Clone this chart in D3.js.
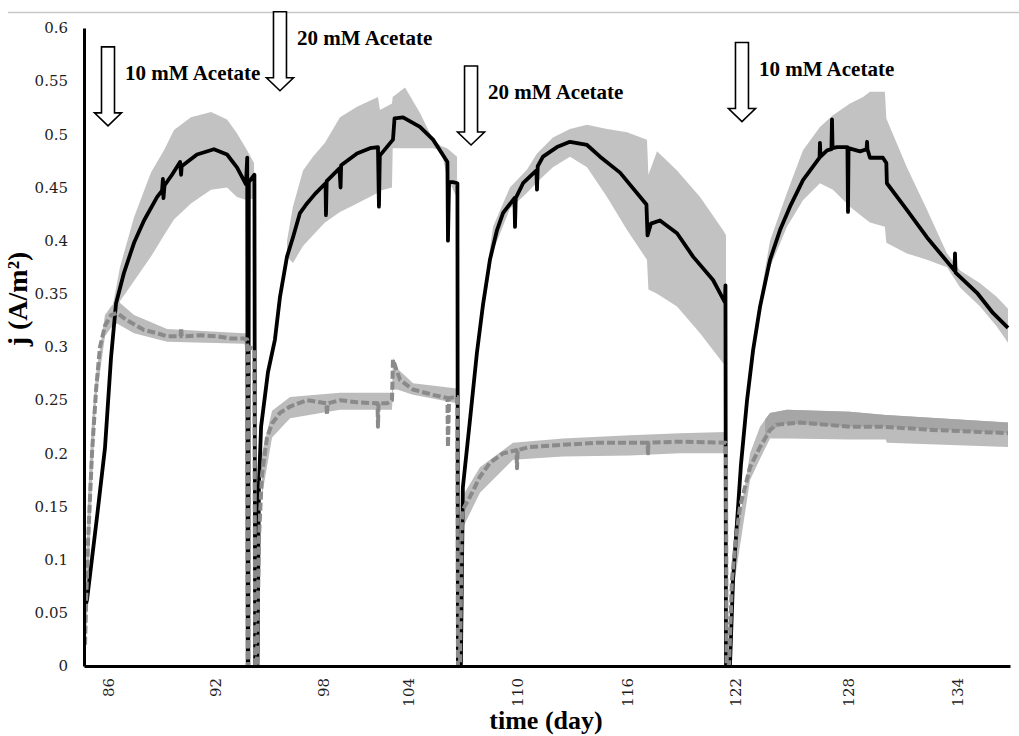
<!DOCTYPE html>
<html>
<head>
<meta charset="utf-8">
<script src="https://cdn.jsdelivr.net/npm/d3@7"></script>
<style>
  html, body { margin: 0; padding: 0; background: #fff; }
  svg { display: block; }
</style>
</head>
<body>
<svg id="chart" width="1019" height="736"></svg>
<script>
// ---- axis ticks ----
const dayTicks = [86, 92, 98, 104, 110, 116, 122, 128, 134];
const jTicks = [0, 0.05, 0.1, 0.15, 0.2, 0.25, 0.3, 0.35, 0.4, 0.45, 0.5, 0.55, 0.6];

// ---- solid series: mean current density [day, j] ----
const solidMean = [
  [84.71,0.055],[84.82,0.062],[85.38,0.14],[85.83,0.205],[86.17,0.29],[86.45,0.341],[86.90,0.37],[87.46,0.398],
  [88.02,0.419],[88.75,0.441],[89.03,0.447],[89.08,0.458],[89.11,0.44],[89.17,0.452],[89.59,0.462],[90.04,0.474],
  [90.10,0.462],[90.13,0.47],[90.99,0.481],[91.94,0.486],[92.67,0.481],[93.22,0.469],[93.50,0.46],[93.72,0.453],
  [93.79,0.478],[93.82,0],[93.85,0],[93.88,0.455],[94.19,0.462],[94.23,0],
  [94.36,0],[94.44,0.17],[94.56,0.225],[94.94,0.276],[95.33,0.307],[95.61,0.347],[96.00,0.385],[96.33,0.403],
  [96.72,0.426],[97.11,0.435],[97.56,0.444],[98.18,0.454],[98.21,0.424],[98.26,0.456],[99.16,0.468],[99.24,0.45],
  [99.28,0.471],[100.40,0.482],[101.32,0.487],[101.88,0.488],[101.95,0.432],[102.01,0.48],[102.94,0.495],
  [103.05,0.515],[103.65,0.516],[104.66,0.507],[105.38,0.495],[106.17,0.474],[106.20,0.40],[106.26,0.455],
  [106.48,0.455],[106.72,0.454],[106.75,0],
  [106.91,0],[107.02,0.168],[107.41,0.231],[107.79,0.294],[108.13,0.34],[108.51,0.382],[108.90,0.41],[109.23,0.426],
  [109.86,0.44],[109.89,0.413],[109.93,0.44],[110.33,0.454],[111.06,0.466],[111.09,0.448],[111.13,0.47],
  [111.42,0.479],[112.18,0.488],[112.89,0.493],[113.82,0.49],[114.53,0.479],[115.62,0.464],[117.08,0.434],
  [117.14,0.405],[117.33,0.416],[117.83,0.419],[118.78,0.407],[119.67,0.385],[120.78,0.363],[121.44,0.342],
  [121.47,0.358],[121.50,0],
  [121.72,0],[121.89,0.081],[122.32,0.19],[122.64,0.25],[122.96,0.297],[123.33,0.338],[123.86,0.382],[124.39,0.41],
  [124.92,0.432],[125.61,0.457],[126.49,0.478],[126.51,0.492],[126.54,0.479],[126.89,0.485],[127.12,0.486],
  [127.15,0.514],[127.18,0.487],[127.42,0.488],[127.97,0.488],[128.00,0.427],[128.03,0.487],[128.66,0.484],
  [129.02,0.486],[129.05,0.493],[129.07,0.486],[129.21,0.478],[129.92,0.478],[130.11,0.473],[130.14,0.454],
  [131.24,0.429],[132.35,0.403],[133.86,0.372],[133.89,0.388],[133.92,0.37],[135.10,0.351],[135.98,0.332],
  [136.81,0.318]
];

// ---- solid series: spread per feeding cycle [day, low, high] ----
const solidBand = [
  [[86.28,0.325,0.34],[86.67,0.343,0.375],[87.46,0.362,0.422],[88.41,0.385,0.464],[89.14,0.405,0.485],
   [89.70,0.42,0.504],[90.65,0.435,0.516],[91.78,0.448,0.521],[92.67,0.45,0.514],[93.22,0.441,0.501],
   [93.78,0.438,0.485],[94.17,0.44,0.473]],
  [[96.00,0.385,0.40],[96.33,0.379,0.432],[96.89,0.395,0.466],[97.44,0.405,0.479],[98.14,0.417,0.492],
   [99.20,0.427,0.516],[100.40,0.435,0.526],[101.88,0.445,0.535],[102.02,0.447,0.523],[102.87,0.45,0.529],
   [102.92,0.487,0.535],[103.79,0.487,0.544],[104.66,0.487,0.52],[105.38,0.487,0.495],[105.82,0.485,0.489],
   [106.15,0.46,0.487],[106.70,0.44,0.479]],
  [[108.13,0.33,0.345],[108.68,0.39,0.413],[109.61,0.43,0.45],[110.55,0.445,0.467],[111.09,0.455,0.482],
   [111.96,0.469,0.497],[112.89,0.479,0.505],[113.82,0.469,0.509],[114.91,0.441,0.505],[116.00,0.41,0.502],
   [117.11,0.382,0.495],[117.19,0.354,0.462],[117.67,0.35,0.484],[118.78,0.338,0.466],[120.06,0.313,0.441],
   [121.33,0.285,0.41],[121.50,0.282,0.405]],
  [[123.33,0.335,0.345],[123.86,0.375,0.40],[124.76,0.413,0.445],[125.61,0.438,0.485],[126.51,0.454,0.507],
   [127.20,0.448,0.518],[128.11,0.432,0.529],[128.83,0.422,0.535],[129.21,0.417,0.54],[130.03,0.413,0.54],
   [130.11,0.398,0.515],[131.24,0.388,0.469],[132.35,0.382,0.429],[133.45,0.375,0.388],[134.17,0.356,0.372],
   [135.27,0.338,0.36],[136.20,0.319,0.347],[136.81,0.304,0.336]]
];

// ---- dashed series: mean current density [day, j] ----
const dashedMean = [
  [84.71,0.02],[84.77,0.06],[84.88,0.118],[85.10,0.2],[85.33,0.26],[85.55,0.3],[85.83,0.32],[86.17,0.33],
  [86.50,0.332],[87.07,0.325],[88.02,0.316],[88.75,0.313],[89.31,0.31],[90.07,0.31],[90.10,0.318],[90.13,0.31],
  [91.21,0.311],[92.11,0.31],[92.89,0.308],[93.56,0.308],[93.79,0.307],[93.82,0],[93.85,0],[93.88,0.30],
  [94.19,0.298],[94.23,0],
  [94.33,0],[94.44,0.12],[94.61,0.18],[94.89,0.215],[95.17,0.228],[95.61,0.238],[96.17,0.244],[97.11,0.25],
  [98.25,0.247],[98.28,0.236],[98.32,0.247],[99.20,0.25],[100.40,0.248],[101.85,0.247],[101.88,0.225],
  [101.92,0.247],[102.52,0.247],[102.87,0.25],[102.94,0.288],[103.44,0.269],[104.28,0.26],[105.38,0.255],
  [106.17,0.252],[106.20,0.206],[106.26,0.252],[106.72,0.253],[106.75,0],
  [106.86,0],[106.97,0.137],[107.02,0.147],[107.41,0.159],[107.96,0.178],[108.51,0.191],[109.23,0.2],
  [109.97,0.203],[110.00,0.186],[110.03,0.203],[110.71,0.206],[112.51,0.208],[114.36,0.21],[116.17,0.21],
  [117.14,0.21],[117.17,0.2],[117.19,0.21],[118.94,0.211],[121.50,0.21],[121.53,0],
  [121.67,0],[121.83,0.081],[122.05,0.12],[122.27,0.15],[122.80,0.187],[123.33,0.206],[123.86,0.222],
  [124.23,0.227],[125.45,0.229],[128.11,0.225],[129.93,0.225],[132.68,0.222],[136.81,0.219]
];

// ---- dashed series: spread per feeding cycle [day, low, high] ----
const dashedBand = [
  [[84.71,0.0,0.06],[84.88,0.07,0.16],[85.10,0.17,0.23],[85.33,0.25,0.275],[85.83,0.31,0.33],[86.17,0.318,0.338],
   [86.50,0.322,0.344],[87.46,0.313,0.33],[89.31,0.305,0.317],[93.61,0.303,0.313],[93.72,0.30,0.313]],
  [[94.61,0.16,0.20],[95.17,0.215,0.24],[96.17,0.233,0.253],[99.20,0.241,0.257],[102.87,0.241,0.257],
   [102.94,0.26,0.29],[103.22,0.26,0.28],[104.28,0.255,0.266],[106.70,0.247,0.261]],
  [[107.02,0.13,0.16],[107.96,0.163,0.187],[109.78,0.194,0.21],[112.51,0.197,0.214],[116.17,0.198,0.217],
   [118.94,0.2,0.219],[121.50,0.2,0.22]],
  [[121.89,0.07,0.10],[122.80,0.175,0.20],[123.33,0.195,0.225],[123.86,0.214,0.238],[124.76,0.214,0.241],
   [128.11,0.213,0.239],[130.08,0.213,0.236],[130.14,0.21,0.236],[136.81,0.206,0.229]]
];
// upper half of the last cycle's spread, shown in a darker grey [day, mean, high]
const dashedUpperLast = [
  [123.60,0.215,0.232],[123.86,0.222,0.238],[124.76,0.228,0.241],[128.11,0.225,0.239],
  [130.08,0.225,0.236],[136.81,0.219,0.229]
];

// ---- substrate additions: day, j at arrow tip, label ----
const feedDays = [86.0, 95.61, 107.47, 122.37];
const feedTipJ = [0.508, 0.541, 0.49, 0.512];
const feedLabels = ["10 mM Acetate", "20 mM Acetate", "20 mM Acetate", "10 mM Acetate"];

// ---- layout ----
const svg = d3.select("#chart");
const serif = "'Liberation Serif', 'Times New Roman', serif";
const tickFont = "'DejaVu Serif', serif";

// day axis: label positions follow the category spacing of the original axis
const x = d3.scaleLinear()
  .domain([84.65, ...dayTicks, 136.92])
  .range([84, 108, 215, 323, 408, 517, 627, 735, 848, 957, 1010]);
const y = d3.scaleLinear().domain([0, 0.6]).range([666, 28]);

// frame line across the top
svg.append("line")
  .attr("x1", 8).attr("x2", 1019).attr("y1", 12.5).attr("y2", 12.5)
  .attr("stroke", "#c8c8c8").attr("stroke-width", 1.5);

const area = d3.area()
  .x(d => x(d[0])).y0(d => y(d[1])).y1(d => y(d[2]));
const line = d3.line()
  .x(d => x(d[0])).y(d => y(d[1]));

// spread bands
svg.append("g").selectAll("path").data(solidBand).join("path")
  .attr("d", area).attr("fill", "#c2c2c2");
svg.append("g").selectAll("path").data(dashedBand).join("path")
  .attr("d", area).attr("fill", "#bcbcbc");
svg.append("path").datum(dashedUpperLast)
  .attr("d", area).attr("fill", "#a6a6a6");

// mean curves
svg.append("path").datum(solidMean)
  .attr("d", line).attr("fill", "none")
  .attr("stroke", "#000").attr("stroke-width", 3.8)
  .attr("stroke-linejoin", "round").attr("stroke-linecap", "butt");
svg.append("path").datum(dashedMean)
  .attr("d", line).attr("fill", "none")
  .attr("stroke", "#8a8a8a").attr("stroke-width", 4)
  .attr("stroke-dasharray", "8,3")
  .attr("stroke-linejoin", "round");

// y axis
const yAxis = svg.append("g")
  .attr("transform", `translate(${x.range()[0]},0)`)
  .call(d3.axisLeft(y).tickValues(jTicks).tickSize(0).tickPadding(16)
    .tickFormat(d => String(+d.toFixed(2))));
yAxis.select(".domain").attr("stroke", "#000").attr("stroke-width", 3);
yAxis.selectAll("text")
  .style("font-family", tickFont).style("font-size", "15px").attr("fill", "#1e1e1e");

// x axis
const xAxis = svg.append("g")
  .attr("transform", `translate(0,${y(0)})`)
  .call(d3.axisBottom(x).tickValues(dayTicks).tickSize(0).tickFormat(d3.format("d")));
xAxis.select(".domain").attr("stroke", "#000").attr("stroke-width", 3);
xAxis.selectAll("text")
  .attr("transform", "rotate(-90)")
  .attr("x", -12).attr("y", 0).attr("dy", "0.36em")
  .style("text-anchor", "end")
  .style("font-family", tickFont).style("font-size", "15px").attr("fill", "#1e1e1e");

// axis titles
svg.append("text")
  .attr("x", 546).attr("y", 729)
  .attr("text-anchor", "middle")
  .style("font-family", serif).style("font-weight", "bold").style("font-size", "26px")
  .text("time (day)");
svg.append("text")
  .attr("transform", "translate(27,299) rotate(-90)")
  .attr("text-anchor", "middle")
  .style("font-family", serif).style("font-weight", "bold").style("font-size", "28px")
  .text("j (A/m²)");

// feeding arrows with labels
const arrowLen = 79, shaftHalf = 6.5, headHalf = 13.5, headLen = 13;
const feeds = feedDays.map((d, i) => ({ day: d, tip: feedTipJ[i], label: feedLabels[i] }));
const fg = svg.append("g").selectAll("g").data(feeds).join("g")
  .attr("transform", d => `translate(${x(d.day)},${y(d.tip)})`);
fg.append("path")
  .attr("d", `M${-shaftHalf},${-arrowLen}H${shaftHalf}V${-headLen}H${headHalf}L0,0L${-headHalf},${-headLen}H${-shaftHalf}Z`)
  .attr("fill", "#fff").attr("stroke", "#000").attr("stroke-width", 1.6)
  .attr("stroke-linejoin", "miter");
fg.append("text")
  .attr("x", 17).attr("y", -arrowLen + 33)
  .style("font-family", serif).style("font-weight", "bold").style("font-size", "21px")
  .text(d => d.label);
</script>
</body>
</html>
